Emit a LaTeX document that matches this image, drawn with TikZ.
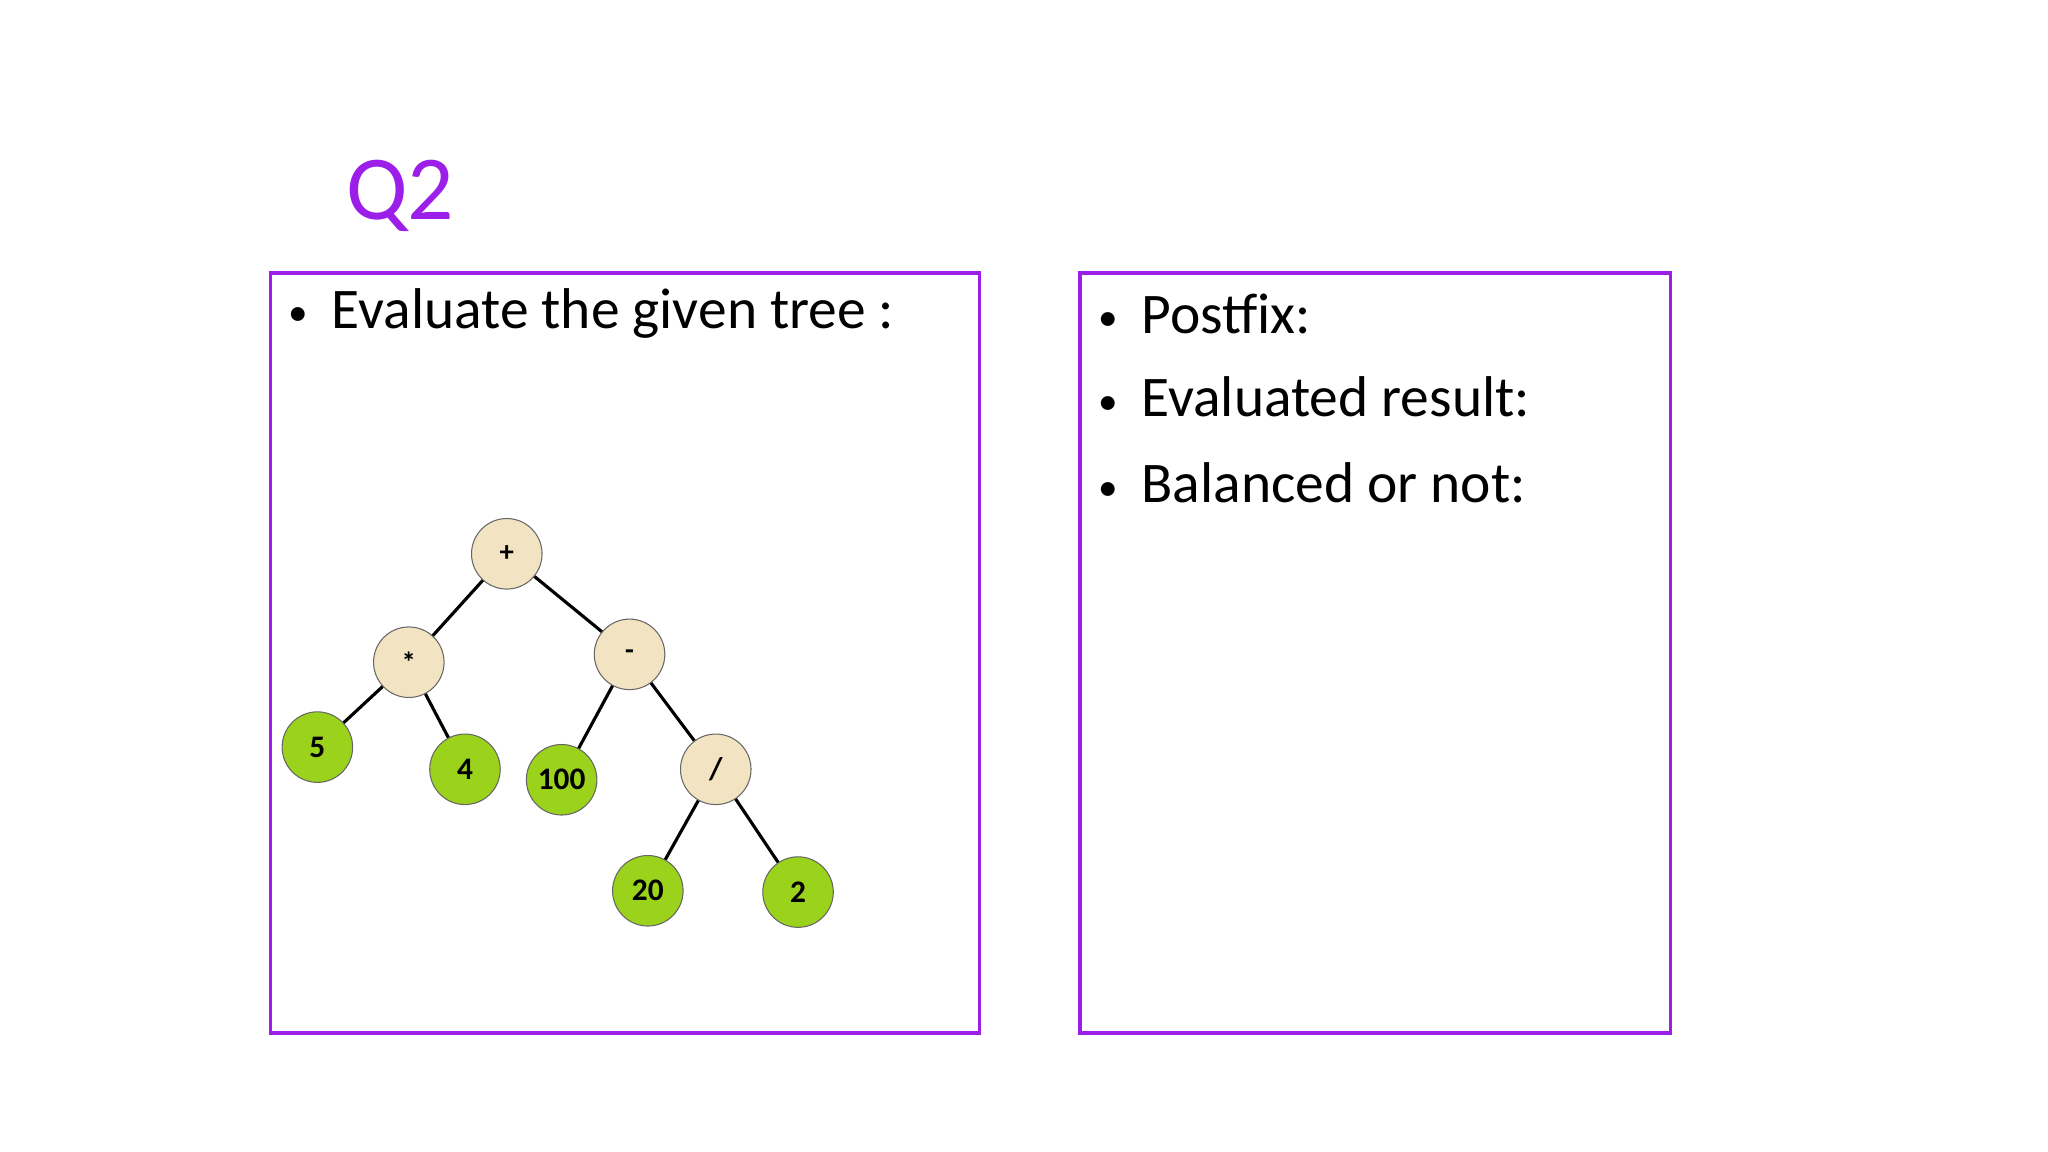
\documentclass[tikz,border=0pt]{standalone}
\usepackage{fontspec}
\setmainfont{Carlito}
\definecolor{pur}{HTML}{9B1FE8}
\definecolor{beige}{HTML}{F2E4C2}
\definecolor{grn}{HTML}{9AD21C}
\newcommand{\bul}{{\fontsize{15}{18}\selectfont\raisebox{1pt}{•}}\hspace{9pt}}
\begin{document}
\begin{tikzpicture}[x=0.5pt,y=-0.5pt,
  box/.style={draw=pur,line width=1.3pt},
  op/.style={circle,draw=black!60,fill=beige,minimum size=27pt,inner sep=0pt,font=\fontsize{11}{13}\selectfont\bfseries},
  leaf/.style={circle,draw=black!60,fill=grn,minimum size=27pt,inner sep=0pt,font=\fontsize{12}{14}\selectfont\bfseries},
  edge/.style={line width=1.2pt},
  txt/.style={anchor=west,font=\fontsize{22}{26}\selectfont}]
\useasboundingbox (0,0) rectangle (1568,882);
\node[anchor=west,text=pur,font=\fontsize{35}{42}\selectfont] (q) at (258,150) {Q2};
\draw[box] (207,209) rectangle (750,791);
\draw[box] (827,209) rectangle (1279,791);
\node[txt] (b1) at (214,240) {\bul Evaluate the given tree :};
\node[txt] (b2) at (834,240) {\bul Postfix:};
\node[txt] (b3) at (834,304) {\bul Evaluated result:};
\node[txt] (b4) at (834,370) {\bul Balanced or not:};
\node[op] (plus) at (388,424) {+};
\node[op] (mul) at (313,507) {*};
\node[op] (minus) at (482,501) {-};
\node[leaf] (n5) at (243,572) {5};
\node[leaf] (n4) at (356,589) {4};
\node[leaf] (n100) at (430,597) {100};
\node[op] (div) at (548,589) {\large /};
\node[leaf] (n20) at (496,682) {20};
\node[leaf] (n2) at (611,683) {2};
\draw[edge] (plus)--(mul) (plus)--(minus) (mul)--(n5) (mul)--(n4) (minus)--(n100) (minus)--(div) (div)--(n20) (div)--(n2);
\end{tikzpicture}
\end{document}
